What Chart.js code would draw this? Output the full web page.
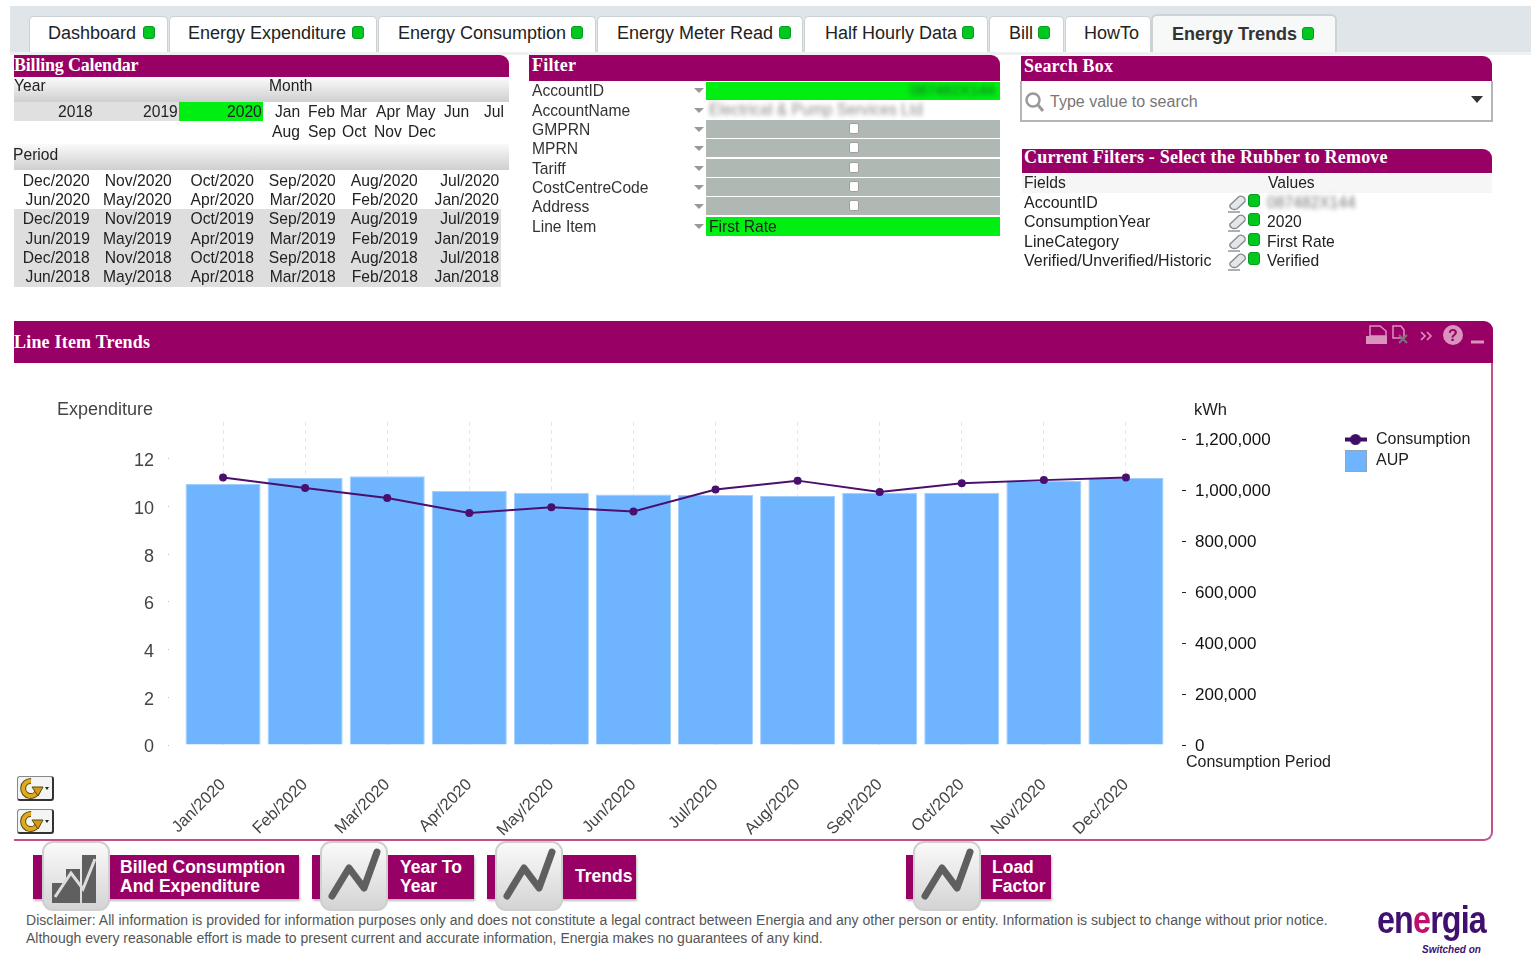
<!DOCTYPE html>
<html lang="en">
<head>
<meta charset="UTF-8">
<title>Line Item Trends</title>
<script src="https://cdn.jsdelivr.net/npm/chart.js@4.4.0/dist/chart.umd.min.js"></script>
<style>
  html, body { margin: 0; padding: 0; background: #fff; overflow: hidden; }
  body { width: 1531px; height: 955px; position: relative; font-family: "Liberation Sans", Arial, sans-serif; color: #222; font-size: 17px; }
  .box { position: absolute; box-sizing: border-box; }
  .t { position: absolute; white-space: nowrap; line-height: 20px; }
  .head { background: #990066; border-top-right-radius: 9px; }
  .grad { background: linear-gradient(#fafafa, #cfcfcf); }
  .dot { position: absolute; width: 12px; height: 13px; border-radius: 3px; background: #00c81e; border: 1px solid #0a9a1e; box-sizing: border-box; }
  svg { position: absolute; overflow: visible; }
  canvas { position: absolute; left: 0; top: 365px; }
</style>
</head>
<body>
<canvas id="trend" width="1490" height="475"></canvas>
<script>
// chart values
const periods = ['Jan/2020', 'Feb/2020', 'Mar/2020', 'Apr/2020', 'May/2020', 'Jun/2020', 'Jul/2020', 'Aug/2020', 'Sep/2020', 'Oct/2020', 'Nov/2020', 'Dec/2020'];
const aup = [10.95, 11.2, 11.27, 10.66, 10.58, 10.51, 10.49, 10.45, 10.58, 10.58, 11.08, 11.2];
const consumption = [1049000, 1008000, 969000, 910000, 933000, 916000, 1002000, 1037000, 992000, 1027000, 1039000, 1049000];
const leftTicks = [0, 2, 4, 6, 8, 10, 12];
const rightTicks = [0, 200000, 400000, 600000, 800000, 1000000, 1200000];

// dashboard text
const tabs = [['Dashboard', 48, 143, 29, 139], ['Energy Expenditure', 188, 352, 169, 208], ['Energy Consumption', 398, 571, 378, 218], ['Energy Meter Read', 617, 779, 597, 206], ['Half Hourly Data', 825, 962, 804, 184], ['Bill', 1009, 1038, 989, 75], ['HowTo', 1084, 0, 1065, 86]];
const years = [['2018', 93], ['2019', 178], ['2020', 262]];
const monthsTop = [['Jan', 275], ['Feb', 308], ['Mar', 340], ['Apr', 376], ['May', 406], ['Jun', 444], ['Jul', 484]];
const monthsBottom = [['Aug', 272], ['Sep', 308], ['Oct', 342], ['Nov', 374], ['Dec', 408]];
const periodRows = [
  [2020, ['Dec', 'Nov', 'Oct', 'Sep', 'Aug', 'Jul']], [2020, ['Jun', 'May', 'Apr', 'Mar', 'Feb', 'Jan']],
  [2019, ['Dec', 'Nov', 'Oct', 'Sep', 'Aug', 'Jul']], [2019, ['Jun', 'May', 'Apr', 'Mar', 'Feb', 'Jan']],
  [2018, ['Dec', 'Nov', 'Oct', 'Sep', 'Aug', 'Jul']], [2018, ['Jun', 'May', 'Apr', 'Mar', 'Feb', 'Jan']]];
const periodRowY = [181, 200, 219, 239, 258, 277];
const periodColX = [90, 172, 254, 336, 418, 499];
const filterLabels = ['AccountID', 'AccountName', 'GMPRN', 'MPRN', 'Tariff', 'CostCentreCode', 'Address', 'Line Item'];
const filterY = [91, 111, 130, 149, 169, 188, 207, 227];
const currentFilters = [['AccountID', '087482X144', 203], ['ConsumptionYear', '2020', 222], ['LineCategory', 'First Rate', 242], ['Verified/Unverified/Historic', 'Verified', 261]];

function box(x, y, w, h, css, cls) {
  const d = document.createElement('div');
  d.className = 'box ' + (cls || '');
  d.style.cssText = `left:${x}px;top:${y}px;width:${w}px;height:${h}px;${css || ''}`;
  document.body.appendChild(d);
  return d;
}
// x is the left edge, or the right edge when rightAlign is set; y is the text centre
function text(str, x, y, css, rightAlign) {
  const d = document.createElement('div');
  d.className = 't';
  d.textContent = str;
  d.style.cssText = `top:${y - 10}px;` + (rightAlign ? `right:${1531 - x}px;transform-origin:right;` : `left:${x}px;transform-origin:left;`) + (css || '');
  document.body.appendChild(d);
  return d;
}
function dot(x, y) {
  const d = document.createElement('div');
  d.className = 'dot';
  d.style.left = x + 'px';
  d.style.top = y + 'px';
  document.body.appendChild(d);
}
function svg(x, y, w, h, inner) {
  const s = document.createElementNS('http://www.w3.org/2000/svg', 'svg');
  s.setAttribute('width', w);
  s.setAttribute('height', h);
  s.setAttribute('viewBox', `0 0 ${w} ${h}`);
  s.style.left = x + 'px';
  s.style.top = y + 'px';
  s.innerHTML = inner;
  document.body.appendChild(s);
}
const headFont = 'color:#fff;font-weight:bold;font-family:"Liberation Serif","Liberation Sans";font-size:18px;letter-spacing:0.2px;';
const narrow = 'transform:scaleX(.92);';

// tab strip
box(10, 6, 1521, 46, 'background:#dfe5e8;');
box(10, 52, 1521, 3, 'background:#eef0f1;');
tabs.forEach(([name, tx, dx, bx, bw]) => {
  box(bx, 16, bw, 36, 'background:#fff;border:1px solid #ccd2d4;border-bottom:none;border-radius:5px 5px 0 0;');
  text(name, tx, 33, 'font-size:18px;');
  if (dx) dot(dx, 26);
});
box(1151, 14, 186, 38, 'background:#f7f8f8;border:2px solid #cdd3d5;border-bottom:none;border-radius:6px 6px 0 0;');
text('Energy Trends', 1172, 34, 'font-size:18px;font-weight:bold;color:#333;');
dot(1302, 27);

// billing calendar
box(14, 55, 495, 22, '', 'head');
text('Billing Calendar', 14, 65, headFont + 'letter-spacing:-0.2px;');
box(14, 78, 495, 24, '', 'grad');
text('Year', 14, 86, narrow);
text('Month', 269, 86, narrow);
box(14, 102, 165, 19, 'background:#e0e0e0;');
box(179, 102, 84, 19, 'background:#00ee11;');
years.forEach(([y, x]) => text(y, x, 112, narrow, true));
monthsTop.forEach(([m, x]) => text(m, x, 112, narrow));
monthsBottom.forEach(([m, x]) => text(m, x, 132, narrow));
box(14, 144, 495, 26, '', 'grad');
text('Period', 13, 155, narrow);
box(14, 209, 487, 78, 'background:#dedede;');
periodRows.forEach(([year, names], r) => names.forEach((m, c) => text(m + '/' + year, periodColX[c], periodRowY[r], narrow, true)));

// filter list
box(529, 55, 471, 26, '', 'head');
text('Filter', 532, 65, headFont);
filterLabels.forEach((f, i) => {
  text(f, 532, filterY[i], 'color:#333;' + narrow);
  svg(694, filterY[i] - 3, 10, 6, '<path d="M0 0h10L5 5z" fill="#999"/>');
});
box(706, 82, 294, 18, 'background:#00ee11;');
text('087482X144', 910, 90, 'font-size:15px;color:#156b2a;filter:blur(2.5px);');
text('Electrical & Pump Services Ltd', 709, 110, 'color:#8a8a8a;filter:blur(2.5px);' + narrow);
for (let i = 2; i < 7; i++) {
  box(706, filterY[i] - 10, 294, 18, 'background:#b0b8b4;');
  box(849, filterY[i] - 7, 10, 11, 'background:#fff;border:1px solid #a0a0a0;border-radius:2px;');
}
box(706, 217, 294, 19, 'background:#00ee11;');
text('First Rate', 709, 227, narrow);

// search box
box(1021, 56, 471, 25, '', 'head');
text('Search Box', 1024, 66, headFont);
box(1020, 81, 473, 41, 'background:#fff;border:2px solid #b5b5b5;border-top:none;');
svg(1025, 92, 20, 20, '<circle cx="8" cy="8" r="6.5" fill="none" stroke="#9a9a9a" stroke-width="2.5"/><path d="M13 13l5 6" stroke="#9a9a9a" stroke-width="3"/>');
text('Type value to search', 1050, 102, 'color:#777;font-size:16px;');
svg(1471, 96, 12, 7, '<path d="M0 0h12L6 7z" fill="#333"/>');

// current filters
box(1022, 149, 470, 24, '', 'head');
text('Current Filters - Select the Rubber to Remove', 1024, 157, headFont);
box(1022, 174, 470, 19, 'background:#f6f6f6;');
text('Fields', 1024, 183, narrow);
text('Values', 1268, 183, narrow);
currentFilters.forEach(([k, v, y]) => {
  text(k, 1024, y, 'transform:scaleX(.94);');
  svg(1227, y - 8, 20, 18, '<path d="M3 10L12 1.500q3-1 5 1 2 2 1 4L10 14q-3 1-5 0-3-2-2-4z" fill="#e4e7ea" stroke="#7f868c" stroke-width="1.300"/><path d="M1 17h12" stroke="#7f868c" stroke-width="1.300"/>');
  dot(1248, y - 9);
  text(v, 1267, y, k === 'AccountID' ? 'color:#777;filter:blur(2.5px);' + narrow : narrow);
});

// line item trends panel, body sits around the canvas
box(14, 321, 1479, 520, 'border-right:2px solid #c2508f;border-bottom:2px solid #c2508f;border-radius:0 11px 9px 0;pointer-events:none;');
box(14, 321, 1479, 42, 'background:#990066;border-radius:0 9px 0 0;');
text('Line Item Trends', 14, 342, headFont);
svg(1366, 324, 120, 24, `
  <path d="M4 2h10l6 5v5H4z" fill="none" stroke="#d994bd" stroke-width="1.500"/><path d="M0 12h21v8H0z" fill="#d994bd"/>
  <path d="M27 2h8l3 4v8H27z" fill="none" stroke="#d994bd" stroke-width="1.500"/><path d="M33 11l8 8m0-8l-8 8" stroke="#777" stroke-width="2"/>
  <path d="M55 8l4 4-4 4M61 8l4 4-4 4" fill="none" stroke="#d994bd" stroke-width="1.600"/>
  <circle cx="87" cy="11" r="10" fill="#d994bd"/><text x="87" y="17" text-anchor="middle" font-size="16" font-weight="bold" fill="#990066" font-family="Liberation Sans">?</text>
  <path d="M105 18h13" stroke="#d994bd" stroke-width="3"/>`);
text('Expenditure', 57, 409, 'font-size:18px;color:#444;');
text('kWh', 1194, 409, 'font-size:16.5px;');
text('Consumption Period', 1186, 762, 'font-size:16px;');

// small refresh icons on the left
[776, 809].forEach(y => {
  box(17, y, 37, 25, 'background:#f4f4f4;border:1px solid #888;border-right:2px solid #333;border-bottom:2px solid #333;border-radius:3px;');
  svg(19, y + 2, 30, 21, '<path d="M12 3a7.500 7.500 0 1 0 7 9" fill="none" stroke="#5a4a10" stroke-width="6"/><path d="M12 3a7.500 7.500 0 1 0 7 9" fill="none" stroke="#e0a91e" stroke-width="4"/><path d="M13 9h11l-5 9z" fill="#d39a1c" stroke="#5a4a10"/><path d="M26 9h4l-2 3z" fill="#222"/>');
});

// buttons under the chart
const zig = '<path d="M12 55L29 27l15 20 13-36" fill="none" stroke="#5f5f5f" stroke-width="7" stroke-linecap="round" stroke-linejoin="round"/>';
const bars = '<path d="M10 62V42h14V28h14v34zM40 62V14h14v48z" fill="#5f5f5f"/><path d="M13 56L29 32l12 16 12-30" fill="none" stroke="#ddd" stroke-width="3"/>';
function button(x, w, iconX, iconSvg, lines, tx, ty) {
  box(x, 855, w, 44, 'background:#990066;box-shadow:1px 2px 2px #bbb;');
  box(iconX, 841, 68, 70, 'background:linear-gradient(#fafafa,#d4d4d4);border:2px solid #cfcfcf;border-radius:11px;');
  svg(iconX, 841, 68, 70, iconSvg);
  lines.forEach((l, i) => text(l, tx, ty[i], 'color:#fff;font-weight:bold;font-size:17.5px;'));
}
button(33, 266, 42, bars, ['Billed Consumption', 'And Expenditure'], 120, [867, 886]);
button(312, 162, 320, zig, ['Year To', 'Year'], 400, [867, 886]);
button(487, 149, 495, zig, ['Trends'], 575, [876]);
button(906, 145, 913, zig, ['Load', 'Factor'], 992, [867, 886]);

// footer
text('Disclaimer: All information is provided for information purposes only and does not constitute a legal contract between Energia and any other person or entity. Information is subject to change without prior notice.', 26, 920, 'font-size:14px;color:#555;letter-spacing:0.04px;');
text('Although every reasonable effort is made to present current and accurate information, Energia makes no guarantees of any kind.', 26, 938, 'font-size:14px;color:#555;');
const logo = text('', 1377, 920, 'font-size:38px;font-weight:bold;color:#3f1070;letter-spacing:-1px;line-height:38px;top:901px;transform:scaleX(.85);');
logo.innerHTML = 'en<span style="color:#c0106e">e</span>rgia';
text('Switched on', 1422, 950, 'font-size:10px;font-weight:bold;font-style:italic;color:#3f1070;');

// legend marker for the line series
const lineMark = document.createElement('canvas');
lineMark.width = 22;
lineMark.height = 12;
const mk = lineMark.getContext('2d');
mk.fillStyle = '#3f0f66';
mk.fillRect(0, 3.5, 22, 4);
mk.beginPath();
mk.arc(11, 5.5, 5.5, 0, Math.PI * 2);
mk.fill();

const boxMark = document.createElement('canvas');
boxMark.width = 22;
boxMark.height = 22;
const mb = boxMark.getContext('2d');
mb.fillStyle = '#6eb4ff';
mb.fillRect(0, 0, 22, 22);
mb.strokeStyle = '#8fa6bd';
mb.strokeRect(0.5, 0.5, 21, 21);

// legend sits beside the plot, not inside it
const pinLegend = {
  id: 'pinLegend',
  afterLayout(chart) {
    const lg = chart.legend;
    lg.left = 1338;
    lg.top = 62;
    lg.right = 1490;
    lg.bottom = 120;
  }
};

new Chart(document.getElementById('trend'), {
  data: {
    labels: periods,
    datasets: [
      { type: 'line', label: 'Consumption', data: consumption, yAxisID: 'kwh', order: 1, borderColor: '#4b0f6e', backgroundColor: '#4b0f6e', borderWidth: 2, pointRadius: 3, tension: 0 },
      { type: 'bar', label: 'AUP', data: aup, yAxisID: 'spend', order: 2, backgroundColor: '#6eb4ff', borderColor: '#a4cffd', borderWidth: 1, barPercentage: 0.915, categoryPercentage: 1 }
    ]
  },
  options: {
    responsive: false,
    animation: false,
    layout: { padding: { top: 57, right: 145 } },
    scales: {
      x: {
        afterFit: s => { s.height = 95; },
        grid: { offset: false, color: '#e6e6e6', tickLength: 0, drawTicks: false },
        border: { display: false, dash: [4, 4] },
        ticks: { autoSkip: false, minRotation: 45, maxRotation: 45, padding: 30, color: '#444', font: { family: '"Liberation Sans"', size: 16.5 } }
      },
      spend: {
        position: 'left', min: 0, max: 13.55,
        afterFit: s => { s.width = 182; },
        afterBuildTicks: s => { s.ticks = leftTicks.map(value => ({ value })); },
        grid: { drawOnChartArea: false, tickLength: 14, tickColor: '#bbb', tickBorderDash: [1, 100] },
        border: { display: false },
        ticks: { padding: 14, labelOffset: 2.5, color: '#444', font: { family: '"Liberation Sans"', size: 18 } }
      },
      kwh: {
        position: 'right', min: 0, max: 1267000,
        afterFit: s => { s.width = 178; },
        afterBuildTicks: s => { s.ticks = rightTicks.map(value => ({ value })); },
        grid: { drawOnChartArea: false, tickLength: 19, tickColor: '#222', tickBorderDash: [0, 15, 4, 100] },
        border: { display: false },
        ticks: { padding: 9, labelOffset: 1, color: '#111', font: { family: '"Liberation Sans"', size: 17 }, callback: v => v.toLocaleString('en-US') }
      }
    },
    plugins: {
      tooltip: { enabled: false },
      legend: {
        position: 'chartArea',
        align: 'start',
        labels: {
          usePointStyle: true,
          pointStyleWidth: 25,
          padding: 5,
          color: '#222',
          font: { family: '"Liberation Sans"', size: 16 },
          generateLabels: chart => chart.data.datasets.map((d, i) => ({
            text: d.label, datasetIndex: i, pointStyle: i === 0 ? lineMark : boxMark, fontColor: '#222', lineWidth: 0
          }))
        }
      }
    }
  },
  plugins: [pinLegend]
});
</script>
</body>
</html>
